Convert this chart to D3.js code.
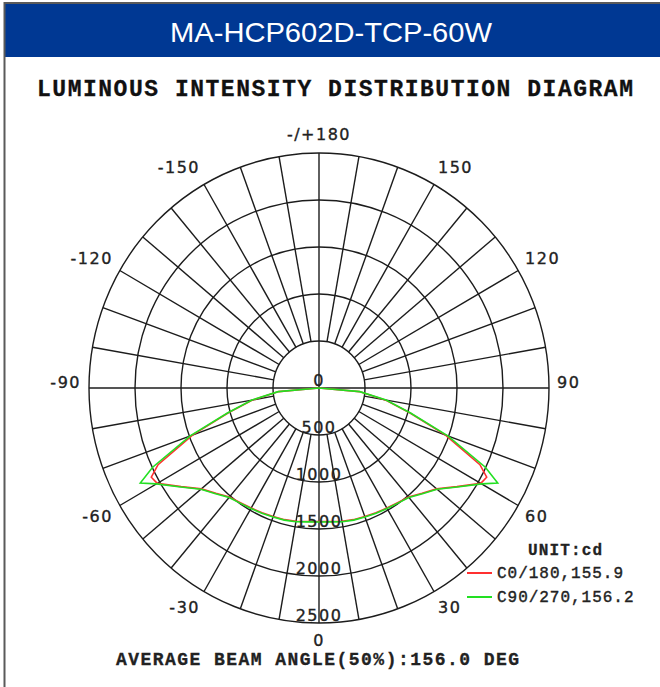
<!DOCTYPE html>
<html>
<head>
<meta charset="utf-8">
<script src="https://cdn.jsdelivr.net/npm/d3@7"></script>
<style>
  html, body { margin: 0; padding: 0; background: #fff; }
  svg { display: block; }
</style>
</head>
<body>
<div id="chart"></div>
<script>
// gamma angles (deg from nadir), mirrored for the left half
const gammas = [0, 5, 10, 15, 20, 25, 30, 35, 40, 45, 50, 55, 60, 62.5, 65, 70, 75, 80, 85, 90];
// C0/180 (red) intensities in cd
const c0Values = [1420, 1425, 1440, 1450, 1455, 1465, 1475, 1490, 1515, 1585, 1670, 1830, 2030, 2055, 1930, 1460, 1020, 730, 440, 0];
// C90/270 (green) intensities in cd
const c90Values = [1425, 1430, 1445, 1455, 1460, 1470, 1480, 1495, 1520, 1590, 1675, 1835, 2040, 2190, 1995, 1490, 1030, 740, 445, 0];

const ringValues = [500, 1000, 1500, 2000, 2500];
const ringLabels = [0, 500, 1000, 1500, 2000, 2500];
const angleLabels = [-150, -120, -90, -60, -30, 0, 30, 60, 90, 120, 150, 180];
const legendItems = [
  { name: "C0/180,155.9", color: "#ff3030" },
  { name: "C90/270,156.2", color: "#22e022" }
];

const W = 660, H = 687;
const cx = 319, cy = 388;
const rx = d3.scaleLinear().domain([0, 2500]).range([0, 230]);
const ry = d3.scaleLinear().domain([0, 2500]).range([0, 235]);
const rad = d => d * Math.PI / 180;
function pt(g, v) {
  return [cx + Math.sin(rad(g)) * rx(v), cy + Math.cos(rad(g)) * ry(v)];
}

const svg = d3.select("#chart").append("svg").attr("width", W).attr("height", H);

// frame + header
svg.append("rect").attr("x", 4).attr("y", 4).attr("width", W - 4).attr("height", 53).attr("fill", "#003893");
svg.append("line").attr("x1", 4.5).attr("x2", 4.5).attr("y1", 2).attr("y2", H).attr("stroke", "#5a5a5a").attr("stroke-width", 2);
svg.append("line").attr("x1", 4).attr("x2", W).attr("y1", 3).attr("y2", 3).attr("stroke", "#5a5a5a").attr("stroke-width", 2);
svg.append("text").attr("x", 331).attr("y", 42).attr("text-anchor", "middle")
  .attr("font-family", "Liberation Sans, Arial, sans-serif").attr("font-size", 28).attr("fill", "#fff")
  .attr("textLength", 322).attr("lengthAdjust", "spacingAndGlyphs")
  .text("MA-HCP602D-TCP-60W");

const mono = "'Courier New', 'Liberation Mono', monospace";
svg.append("text").attr("x", 37).attr("y", 96)
  .attr("font-family", mono).attr("font-weight", "bold").attr("font-size", 23).attr("fill", "#111")
  .attr("stroke", "#111").attr("stroke-width", 0.3)
  .attr("textLength", 596).attr("lengthAdjust", "spacing")
  .text("LUMINOUS INTENSITY DISTRIBUTION DIAGRAM");

// grid
const grid = svg.append("g").attr("stroke", "#1c1c1c").attr("stroke-width", 1.4).attr("fill", "none");
grid.selectAll("ellipse").data(ringValues).join("ellipse")
  .attr("cx", cx).attr("cy", cy).attr("rx", d => rx(d)).attr("ry", d => ry(d));
grid.selectAll("line").data(d3.range(0, 360, 10)).join("line")
  .attr("x1", g => pt(g, g % 90 === 0 ? 0 : 500)[0])
  .attr("y1", g => pt(g, g % 90 === 0 ? 0 : 500)[1])
  .attr("x2", g => pt(g, 2500)[0])
  .attr("y2", g => pt(g, 2500)[1]);

// curves
function series(vals) {
  const left = gammas.slice(1).map((g, i) => [-g, vals[i + 1]]).reverse();
  const right = gammas.map((g, i) => [g, vals[i]]);
  return left.concat(right);
}
const line = d3.line().x(d => pt(d[0], d[1])[0]).y(d => pt(d[0], d[1])[1]);
svg.append("path").datum(series(c0Values)).attr("d", line)
  .attr("fill", "none").attr("stroke", legendItems[0].color).attr("stroke-width", 1.6);
svg.append("path").datum(series(c90Values)).attr("d", line)
  .attr("fill", "none").attr("stroke", legendItems[1].color).attr("stroke-width", 1.6);

// ring labels
const sans = "'DejaVu Sans', Verdana, sans-serif";
svg.append("g").selectAll("text").data(ringLabels).join("text")
  .attr("x", cx).attr("y", d => cy + ry(d) - 2).attr("text-anchor", "middle")
  .attr("font-family", sans).attr("font-size", 16).attr("letter-spacing", 1.5)
  .attr("fill", "#222").attr("stroke", "#222").attr("stroke-width", 0.35)
  .text(d => d);

// angle labels
svg.append("g").selectAll("text").data(angleLabels).join("text")
  .attr("x", g => {
    const s = Math.sin(rad(g));
    return Math.abs(s) < 0.01 ? cx : cx + s * 238;
  })
  .attr("y", g => {
    const c = Math.cos(rad(g));
    return cy + c * 248 + (c > 0.01 ? 10 : 0);
  })
  .attr("text-anchor", g => {
    const s = Math.sin(rad(g));
    return Math.abs(s) < 0.01 ? "middle" : (s > 0 ? "start" : "end");
  })
  .attr("font-family", sans).attr("font-size", 16).attr("letter-spacing", 1.5)
  .attr("fill", "#222").attr("stroke", "#222").attr("stroke-width", 0.35)
  .text(g => g === 180 ? "-/+180" : g);

// legend
svg.append("text").attr("x", 528).attr("y", 555)
  .attr("font-family", mono).attr("font-weight", "bold").attr("font-size", 16).attr("fill", "#222")
  .attr("stroke", "#222").attr("stroke-width", 0.3)
  .attr("textLength", 74).attr("lengthAdjust", "spacing").text("UNIT:cd");
const lg = svg.append("g").selectAll("g").data(legendItems).join("g")
  .attr("transform", (d, i) => `translate(0,${573 + i * 24})`);
lg.append("line").attr("x1", 467).attr("x2", 492).attr("y1", 0).attr("y2", 0)
  .attr("stroke", d => d.color).attr("stroke-width", 2);
lg.append("text").attr("x", 497).attr("y", 5)
  .attr("font-family", mono).attr("font-size", 16).attr("fill", "#222")
  .attr("stroke", "#222").attr("stroke-width", 0.4)
  .attr("textLength", d => d.name.length * 10.5).attr("lengthAdjust", "spacing")
  .text(d => d.name);

// footer
svg.append("text").attr("x", 116).attr("y", 665)
  .attr("font-family", mono).attr("font-weight", "bold").attr("font-size", 18).attr("fill", "#222")
  .attr("stroke", "#222").attr("stroke-width", 0.3)
  .attr("textLength", 403).attr("lengthAdjust", "spacing")
  .text("AVERAGE BEAM ANGLE(50%):156.0 DEG");
</script>
</body>
</html>
